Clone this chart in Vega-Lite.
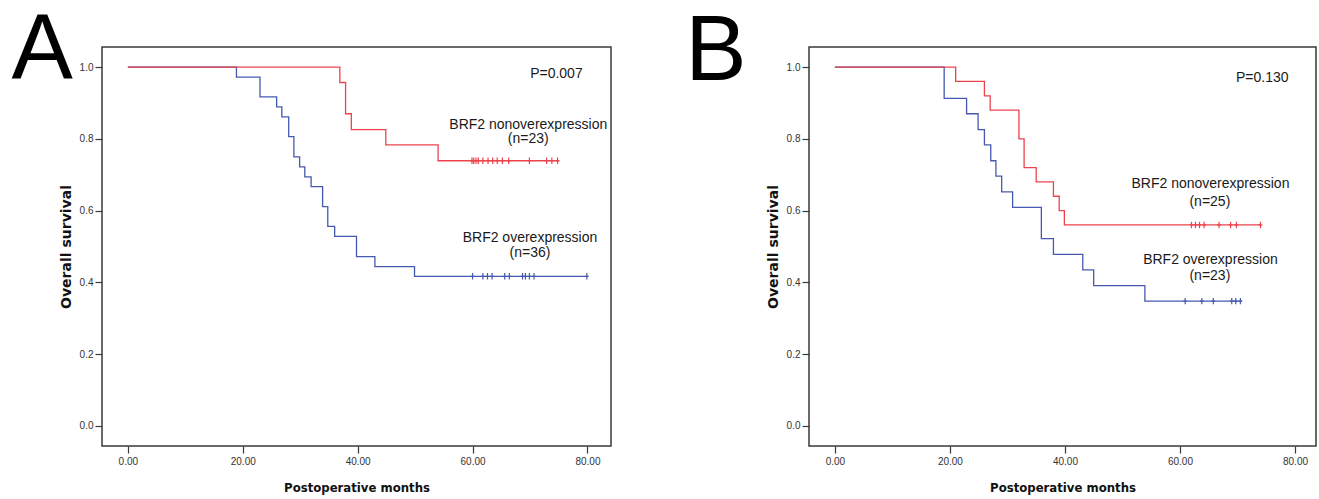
{
  "$schema": "https://vega.github.io/schema/vega-lite/v6.json",
  "background": "white",
  "padding": {"left": 10, "top": 4, "right": 0, "bottom": 0},
  "spacing": 72,
  "datasets": {
    "curves": [
      {"panel": "A", "grp": "over", "t": 0, "s": 1},
      {"panel": "A", "grp": "over", "t": 18.9, "s": 0.972},
      {"panel": "A", "grp": "over", "t": 23.0, "s": 0.917},
      {"panel": "A", "grp": "over", "t": 25.9, "s": 0.889},
      {"panel": "A", "grp": "over", "t": 26.8, "s": 0.861},
      {"panel": "A", "grp": "over", "t": 28.0, "s": 0.806},
      {"panel": "A", "grp": "over", "t": 28.9, "s": 0.75},
      {"panel": "A", "grp": "over", "t": 29.9, "s": 0.722},
      {"panel": "A", "grp": "over", "t": 30.8, "s": 0.694},
      {"panel": "A", "grp": "over", "t": 31.9, "s": 0.667},
      {"panel": "A", "grp": "over", "t": 33.9, "s": 0.611},
      {"panel": "A", "grp": "over", "t": 34.8, "s": 0.556},
      {"panel": "A", "grp": "over", "t": 36.0, "s": 0.528},
      {"panel": "A", "grp": "over", "t": 39.8, "s": 0.472},
      {"panel": "A", "grp": "over", "t": 43.0, "s": 0.444},
      {"panel": "A", "grp": "over", "t": 49.9, "s": 0.417},
      {"panel": "A", "grp": "over", "t": 79.9, "s": 0.417},
      {"panel": "A", "grp": "non", "t": 0, "s": 1},
      {"panel": "A", "grp": "non", "t": 36.9, "s": 0.957},
      {"panel": "A", "grp": "non", "t": 37.9, "s": 0.87},
      {"panel": "A", "grp": "non", "t": 38.9, "s": 0.826},
      {"panel": "A", "grp": "non", "t": 44.9, "s": 0.783},
      {"panel": "A", "grp": "non", "t": 54.0, "s": 0.739},
      {"panel": "A", "grp": "non", "t": 75.1, "s": 0.739},
      {"panel": "B", "grp": "over", "t": 0, "s": 1},
      {"panel": "B", "grp": "over", "t": 19.0, "s": 0.913},
      {"panel": "B", "grp": "over", "t": 22.9, "s": 0.87},
      {"panel": "B", "grp": "over", "t": 24.9, "s": 0.826},
      {"panel": "B", "grp": "over", "t": 26.0, "s": 0.783},
      {"panel": "B", "grp": "over", "t": 27.1, "s": 0.739},
      {"panel": "B", "grp": "over", "t": 28.0, "s": 0.696},
      {"panel": "B", "grp": "over", "t": 29.0, "s": 0.652},
      {"panel": "B", "grp": "over", "t": 30.9, "s": 0.609},
      {"panel": "B", "grp": "over", "t": 35.9, "s": 0.522},
      {"panel": "B", "grp": "over", "t": 38.0, "s": 0.478},
      {"panel": "B", "grp": "over", "t": 43.1, "s": 0.435},
      {"panel": "B", "grp": "over", "t": 45.0, "s": 0.391},
      {"panel": "B", "grp": "over", "t": 53.9, "s": 0.348},
      {"panel": "B", "grp": "over", "t": 70.8, "s": 0.348},
      {"panel": "B", "grp": "non", "t": 0, "s": 1},
      {"panel": "B", "grp": "non", "t": 21.0, "s": 0.96},
      {"panel": "B", "grp": "non", "t": 26.0, "s": 0.92},
      {"panel": "B", "grp": "non", "t": 27.0, "s": 0.88},
      {"panel": "B", "grp": "non", "t": 32.0, "s": 0.8},
      {"panel": "B", "grp": "non", "t": 32.9, "s": 0.72},
      {"panel": "B", "grp": "non", "t": 35.0, "s": 0.68},
      {"panel": "B", "grp": "non", "t": 38.0, "s": 0.64},
      {"panel": "B", "grp": "non", "t": 39.0, "s": 0.6},
      {"panel": "B", "grp": "non", "t": 39.9, "s": 0.56},
      {"panel": "B", "grp": "non", "t": 74.0, "s": 0.56}
    ],
    "censors": [
      {"panel": "A", "grp": "non", "t": 59.9, "s": 0.739},
      {"panel": "A", "grp": "non", "t": 60.2, "s": 0.739},
      {"panel": "A", "grp": "non", "t": 60.6, "s": 0.739},
      {"panel": "A", "grp": "non", "t": 61.0, "s": 0.739},
      {"panel": "A", "grp": "non", "t": 61.8, "s": 0.739},
      {"panel": "A", "grp": "non", "t": 62.7, "s": 0.739},
      {"panel": "A", "grp": "non", "t": 63.5, "s": 0.739},
      {"panel": "A", "grp": "non", "t": 64.3, "s": 0.739},
      {"panel": "A", "grp": "non", "t": 65.2, "s": 0.739},
      {"panel": "A", "grp": "non", "t": 66.3, "s": 0.739},
      {"panel": "A", "grp": "non", "t": 69.9, "s": 0.739},
      {"panel": "A", "grp": "non", "t": 72.9, "s": 0.739},
      {"panel": "A", "grp": "non", "t": 73.8, "s": 0.739},
      {"panel": "A", "grp": "non", "t": 74.8, "s": 0.739},
      {"panel": "A", "grp": "over", "t": 60.0, "s": 0.417},
      {"panel": "A", "grp": "over", "t": 61.8, "s": 0.417},
      {"panel": "A", "grp": "over", "t": 62.6, "s": 0.417},
      {"panel": "A", "grp": "over", "t": 63.4, "s": 0.417},
      {"panel": "A", "grp": "over", "t": 65.6, "s": 0.417},
      {"panel": "A", "grp": "over", "t": 66.4, "s": 0.417},
      {"panel": "A", "grp": "over", "t": 68.7, "s": 0.417},
      {"panel": "A", "grp": "over", "t": 69.2, "s": 0.417},
      {"panel": "A", "grp": "over", "t": 69.9, "s": 0.417},
      {"panel": "A", "grp": "over", "t": 70.7, "s": 0.417},
      {"panel": "A", "grp": "over", "t": 79.9, "s": 0.417},
      {"panel": "B", "grp": "non", "t": 62.0, "s": 0.56},
      {"panel": "B", "grp": "non", "t": 62.7, "s": 0.56},
      {"panel": "B", "grp": "non", "t": 63.4, "s": 0.56},
      {"panel": "B", "grp": "non", "t": 64.2, "s": 0.56},
      {"panel": "B", "grp": "non", "t": 66.8, "s": 0.56},
      {"panel": "B", "grp": "non", "t": 68.8, "s": 0.56},
      {"panel": "B", "grp": "non", "t": 69.8, "s": 0.56},
      {"panel": "B", "grp": "non", "t": 74.0, "s": 0.56},
      {"panel": "B", "grp": "over", "t": 60.9, "s": 0.348},
      {"panel": "B", "grp": "over", "t": 63.8, "s": 0.348},
      {"panel": "B", "grp": "over", "t": 65.8, "s": 0.348},
      {"panel": "B", "grp": "over", "t": 69.0, "s": 0.348},
      {"panel": "B", "grp": "over", "t": 69.7, "s": 0.348},
      {"panel": "B", "grp": "over", "t": 70.5, "s": 0.348}
    ],
    "notes": [
      {"panel": "A", "txt": "P=0.007", "x": 74.6, "y": 0.98},
      {"panel": "A", "txt": "BRF2 nonoverexpression", "x": 69.7, "y": 0.84},
      {"panel": "A", "txt": "(n=23)", "x": 69.7, "y": 0.799},
      {"panel": "A", "txt": "BRF2 overexpression", "x": 70.0, "y": 0.523},
      {"panel": "A", "txt": "(n=36)", "x": 70.0, "y": 0.483},
      {"panel": "B", "txt": "P=0.130", "x": 74.3, "y": 0.97},
      {"panel": "B", "txt": "BRF2 nonoverexpression", "x": 65.3, "y": 0.673},
      {"panel": "B", "txt": "(n=25)", "x": 65.2, "y": 0.625},
      {"panel": "B", "txt": "BRF2 overexpression", "x": 65.3, "y": 0.462},
      {"panel": "B", "txt": "(n=23)", "x": 65.2, "y": 0.418}
    ],
    "letters": [
      {"panel": "A", "txt": "A", "x": -14.9, "y": 0.966},
      {"panel": "B", "txt": "B", "x": -20.7, "y": 0.963}
    ]
  },
  "config": {
    "view": {"stroke": "#3a3a3a", "strokeWidth": 1.5},
    "axis": {
      "grid": false,
      "domain": false,
      "tickSize": 7,
      "tickColor": "#3a3a3a",
      "tickWidth": 1.2,
      "labelFont": "Liberation Sans",
      "labelFontSize": 10,
      "labelColor": "#333333",
      "labelPadding": 2,
      "titleColor": "#111111",
      "titleFontWeight": "bold",
      "titleFontSize": 13
    },
    "text": {"font": "Liberation Sans"}
  },
  "hconcat": [
    {
      "width": 509,
      "height": 399,
      "layer": [
        {
          "data": {"name": "curves"},
          "transform": [{"filter": "datum.panel === 'A'"}],
          "mark": {"type": "line", "interpolate": "step-after", "strokeWidth": 1.3},
          "encoding": {
            "x": {"field": "t", "type": "quantitative", "scale": {"domain": [-4.5, 84.1], "nice": false, "zero": false},
                  "axis": {"values": [0, 20, 40, 60, 80], "format": ".2f", "title": "Postoperative months", "titleFont": "DejaVu Sans Condensed", "titlePadding": 15, "labelPadding": 3}},
            "y": {"field": "s", "type": "quantitative", "scale": {"domain": [-0.056, 1.056], "nice": false, "zero": false},
                  "axis": {"values": [0, 0.2, 0.4, 0.6, 0.8, 1.0], "format": ".1f", "title": "Overall survival", "titleFont": "DejaVu Sans", "titleFontSize": 14, "titlePadding": 6}},
            "color": {"field": "grp", "type": "nominal", "scale": {"domain": ["over", "non"], "range": ["#4659b0", "#ec434d"]}, "legend": null},
            "order": {"field": "t", "type": "quantitative"}
          }
        },
        {
          "data": {"name": "censors"},
          "transform": [{"filter": "datum.panel === 'A'"}],
          "mark": {"type": "point", "shape": "M0,-1V1M-0.6,0H0.6", "filled": false, "size": 40, "strokeWidth": 1.2, "opacity": 1},
          "encoding": {
            "x": {"field": "t", "type": "quantitative"},
            "y": {"field": "s", "type": "quantitative"},
            "color": {"field": "grp", "type": "nominal", "legend": null}
          }
        },
        {
          "data": {"name": "notes"},
          "transform": [{"filter": "datum.panel === 'A'"}],
          "mark": {"type": "text", "fontSize": 14, "align": "center", "baseline": "middle", "color": "#1a1a1a"},
          "encoding": {
            "x": {"field": "x", "type": "quantitative"},
            "y": {"field": "y", "type": "quantitative"},
            "text": {"field": "txt"}
          }
        },
        {
          "data": {"name": "letters"},
          "transform": [{"filter": "datum.panel === 'A'"}],
          "mark": {"type": "text", "font": "Liberation Sans", "fontSize": 92, "align": "center", "baseline": "alphabetic", "color": "#000000"},
          "encoding": {
            "x": {"field": "x", "type": "quantitative"},
            "y": {"field": "y", "type": "quantitative"},
            "text": {"field": "txt"}
          }
        }
      ]
    },
    {
      "width": 507,
      "height": 399,
      "layer": [
        {
          "data": {"name": "curves"},
          "transform": [{"filter": "datum.panel === 'B'"}],
          "mark": {"type": "line", "interpolate": "step-after", "strokeWidth": 1.3},
          "encoding": {
            "x": {"field": "t", "type": "quantitative", "scale": {"domain": [-4.5, 83.65], "nice": false, "zero": false},
                  "axis": {"values": [0, 20, 40, 60, 80], "format": ".2f", "title": "Postoperative months", "titleFont": "DejaVu Sans Condensed", "titlePadding": 15, "labelPadding": 3}},
            "y": {"field": "s", "type": "quantitative", "scale": {"domain": [-0.056, 1.056], "nice": false, "zero": false},
                  "axis": {"values": [0, 0.2, 0.4, 0.6, 0.8, 1.0], "format": ".1f", "title": "Overall survival", "titleFont": "DejaVu Sans", "titleFontSize": 14, "titlePadding": 6}},
            "color": {"field": "grp", "type": "nominal", "scale": {"domain": ["over", "non"], "range": ["#4659b0", "#ec434d"]}, "legend": null},
            "order": {"field": "t", "type": "quantitative"}
          }
        },
        {
          "data": {"name": "censors"},
          "transform": [{"filter": "datum.panel === 'B'"}],
          "mark": {"type": "point", "shape": "M0,-1V1M-0.6,0H0.6", "filled": false, "size": 40, "strokeWidth": 1.2, "opacity": 1},
          "encoding": {
            "x": {"field": "t", "type": "quantitative"},
            "y": {"field": "s", "type": "quantitative"},
            "color": {"field": "grp", "type": "nominal", "legend": null}
          }
        },
        {
          "data": {"name": "notes"},
          "transform": [{"filter": "datum.panel === 'B'"}],
          "mark": {"type": "text", "fontSize": 14, "align": "center", "baseline": "middle", "color": "#1a1a1a"},
          "encoding": {
            "x": {"field": "x", "type": "quantitative"},
            "y": {"field": "y", "type": "quantitative"},
            "text": {"field": "txt"}
          }
        },
        {
          "data": {"name": "letters"},
          "transform": [{"filter": "datum.panel === 'B'"}],
          "mark": {"type": "text", "font": "Liberation Sans", "fontSize": 92, "align": "center", "baseline": "alphabetic", "color": "#000000"},
          "encoding": {
            "x": {"field": "x", "type": "quantitative"},
            "y": {"field": "y", "type": "quantitative"},
            "text": {"field": "txt"}
          }
        }
      ]
    }
  ]
}
